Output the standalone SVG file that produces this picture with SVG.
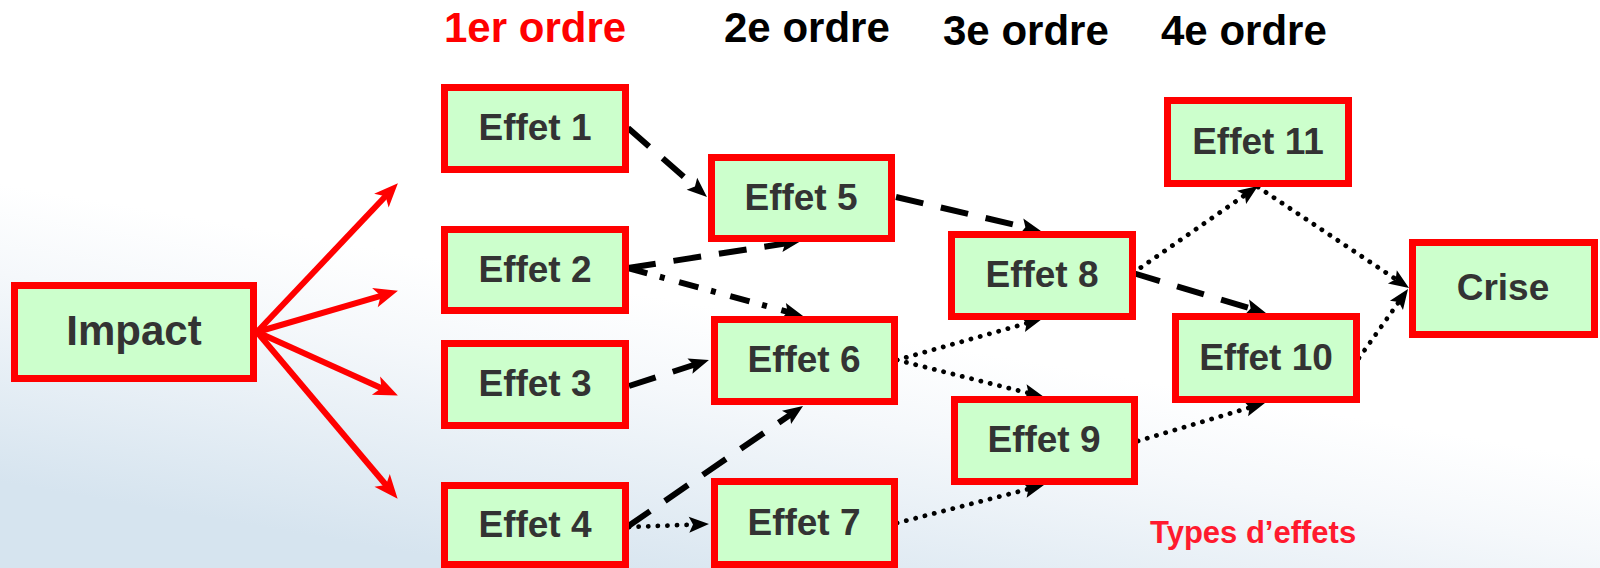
<svg xmlns="http://www.w3.org/2000/svg" width="1600" height="568" viewBox="0 0 1600 568">
  <defs>
    <linearGradient id="bg" gradientUnits="userSpaceOnUse" x1="850" y1="330" x2="800" y2="620">
      <stop offset="0" stop-color="#ffffff"/>
      <stop offset="0.3" stop-color="#f5f8fb"/>
      <stop offset="1" stop-color="#d6e4ef"/>
    </linearGradient>
    <marker id="ahRed" markerUnits="userSpaceOnUse" markerWidth="26" markerHeight="22" refX="8" refY="10" orient="auto" overflow="visible">
      <path d="M0,0 L24,10 L0,20 L6,10 Z" fill="#ff0000"/>
    </marker>
    <marker id="ahBlk" markerUnits="userSpaceOnUse" markerWidth="22" markerHeight="18" refX="7" refY="8" orient="auto" overflow="visible">
      <path d="M0,0 L20,8 L0,16 L4,8 Z" fill="#000000"/>
    </marker>
    <style>
      .box { fill: #ccffcc; stroke: #ff0000; stroke-width: 7; }
      .lbl { font-family: "Liberation Sans", Arial, sans-serif; font-weight: bold; font-size: 37px; fill: #333333; text-anchor: middle; }
      .hdr { font-family: "Liberation Sans", Arial, sans-serif; font-weight: bold; font-size: 42px; }
      .red { stroke: #ff0000; stroke-width: 6; fill: none; marker-end: url(#ahRed); }
      .blk { stroke: #000000; fill: none; marker-end: url(#ahBlk); }
      .dash { stroke-width: 6; stroke-dasharray: 28 18; }
      .dot { stroke-width: 4.8; stroke-dasharray: 0.1 9.5; stroke-linecap: round; }
      .dashdot { stroke-width: 6; stroke-dasharray: 20 13 5 15; }
    </style>
  </defs>

  <rect x="0" y="0" width="1600" height="568" fill="url(#bg)"/>

  <g id="headers">
    <text class="hdr" x="444" y="42" fill="#ff0000">1er ordre</text>
    <text class="hdr" x="724" y="42" fill="#000000">2e ordre</text>
    <text class="hdr" x="943" y="45" fill="#000000">3e ordre</text>
    <text class="hdr" x="1161" y="45" fill="#000000">4e ordre</text>
  </g>

  <g id="connectors">
    <path class="red" d="M257,332 L386.9,194.8"/>
    <path class="red" d="M257,332 L382.6,295.3"/>
    <path class="red" d="M257,332 L383.3,388.9"/>
    <path class="red" d="M257,332 L387.3,486.5"/>

    <path class="blk dash" d="M628,128 L697.2,188.4"/>
    <path class="blk dash" d="M628,268 L788.1,243.0"/>
    <path class="blk dashdot" d="M628,268 L790.5,312.6"/>
    <path class="blk dash" d="M629,386 L696.6,364.0"/>
    <path class="blk dash" d="M627,527 L792.3,413.4"/>
    <path class="blk dot" d="M629,527 L696,524.5"/>
    <path class="blk dash" d="M896,197 L1028.3,228.0"/>
    <path class="blk dot" d="M897,360 L1029.5,322.5"/>
    <path class="blk dot" d="M897,360 L1031.4,393.8"/>
    <path class="blk dot" d="M897,523 L1031.4,488.3"/>
    <path class="blk dot" d="M1133,273 L1247.3,193.4"/>
    <path class="blk dash" d="M1133,273 L1253.5,309.3"/>
    <path class="blk dot" d="M1258,187 L1398.2,280.8"/>
    <path class="blk dot" d="M1359,358 L1400.5,299.6"/>
    <path class="blk dot" d="M1138,441 L1252.5,406.7"/>
  </g>

  <g id="impact">
    <rect class="box" x="14.5" y="285.5" width="239" height="93"/>
    <text class="lbl" x="134" y="345" style="font-size:42px">Impact</text>
  </g>
  <g id="effet1">
    <rect class="box" x="444.5" y="87.5" width="181" height="82"/>
    <text class="lbl" x="535" y="140">Effet 1</text>
  </g>
  <g id="effet2">
    <rect class="box" x="444.5" y="229.5" width="181" height="81"/>
    <text class="lbl" x="535" y="282">Effet 2</text>
  </g>
  <g id="effet3">
    <rect class="box" x="444.5" y="343.5" width="181" height="82"/>
    <text class="lbl" x="535" y="396">Effet 3</text>
  </g>
  <g id="effet4">
    <rect class="box" x="444.5" y="485.5" width="181" height="79"/>
    <text class="lbl" x="535" y="537">Effet 4</text>
  </g>
  <g id="effet5">
    <rect class="box" x="711.5" y="157.5" width="180" height="81"/>
    <text class="lbl" x="801" y="210">Effet 5</text>
  </g>
  <g id="effet6">
    <rect class="box" x="714.5" y="319.5" width="180" height="82"/>
    <text class="lbl" x="804" y="372">Effet 6</text>
  </g>
  <g id="effet7">
    <rect class="box" x="714.5" y="481.5" width="180" height="83"/>
    <text class="lbl" x="804" y="535">Effet 7</text>
  </g>
  <g id="effet8">
    <rect class="box" x="951.5" y="234.5" width="181" height="82"/>
    <text class="lbl" x="1042" y="287">Effet 8</text>
  </g>
  <g id="effet9">
    <rect class="box" x="954.5" y="399.5" width="180" height="82"/>
    <text class="lbl" x="1044" y="452">Effet 9</text>
  </g>
  <g id="effet10">
    <rect class="box" x="1175.5" y="316.5" width="181" height="83"/>
    <text class="lbl" x="1266" y="370">Effet 10</text>
  </g>
  <g id="effet11">
    <rect class="box" x="1167.5" y="100.5" width="181" height="83"/>
    <text class="lbl" x="1258" y="154">Effet 11</text>
  </g>
  <g id="crise">
    <rect class="box" x="1412.5" y="242.5" width="182" height="92"/>
    <text class="lbl" x="1503" y="300">Crise</text>
  </g>

  <text x="1150" y="543" font-family="Liberation Sans, Arial, sans-serif" font-weight="bold" font-size="31" fill="#ff1a2e">Types d’effets</text>
</svg>
